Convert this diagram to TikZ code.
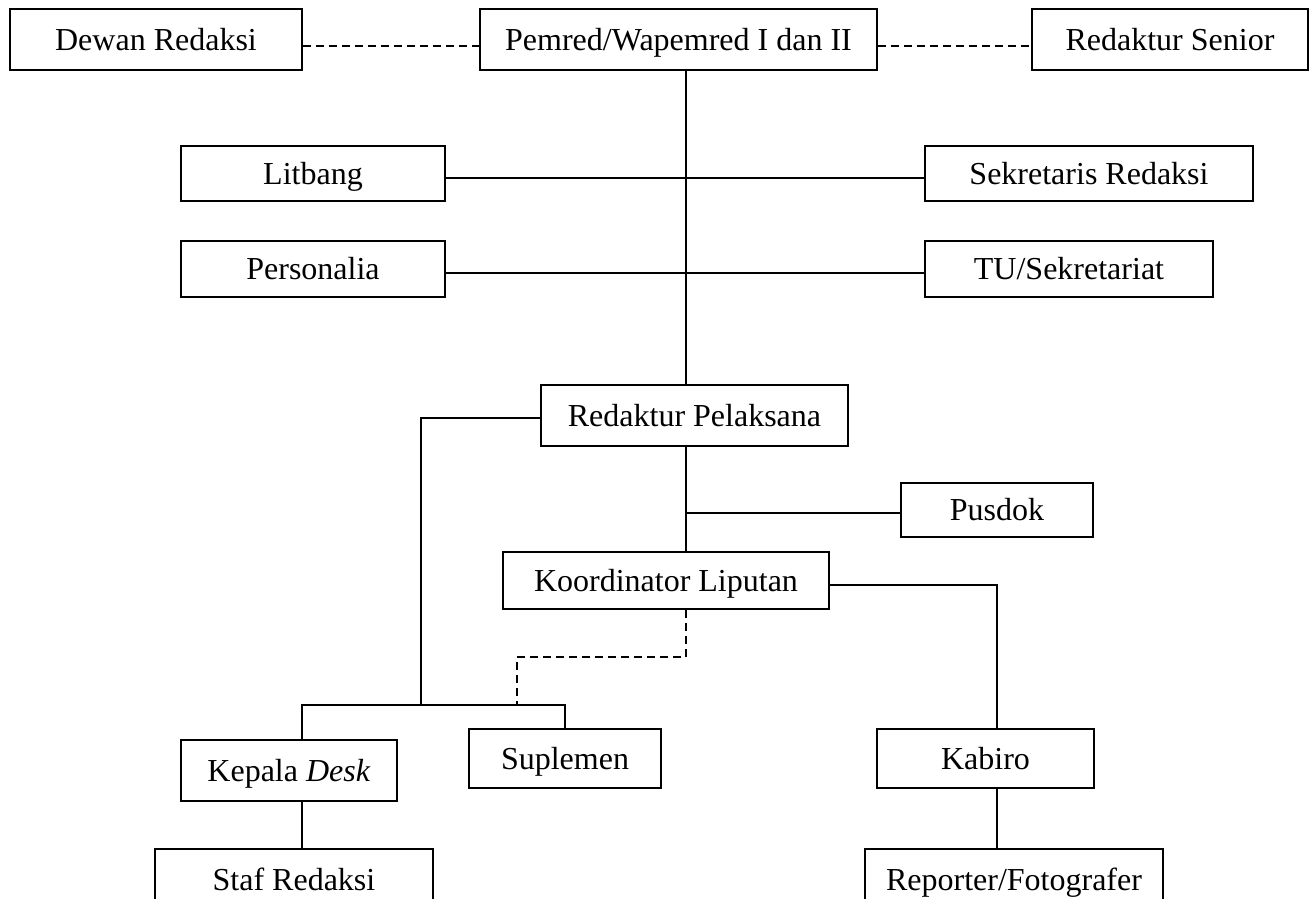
\documentclass[tikz,border=0pt]{standalone}
\usepackage{fontspec}
\setmainfont{Liberation Serif}
\tikzset{x=0.5pt, y=-0.5pt, % One unit is one pixel of the chart, y grows downwards
every node/.style={font=\fontsize{16}{19}\selectfont},
unit/.style={ % Sets the properties for each box of the chart
draw, rectangle,
line width=1pt,
inner sep=0pt,
text height=10.6pt, text depth=0pt}, % Text centred on its capitals
link/.style={line width=1pt}, % Line of command
staff link/.style={ % Line of coordination
link, dashed, dash pattern=on 4pt off 2.5pt}}

\begin{document}
\begin{tikzpicture}
    \clip (0,0) rectangle (1314,899);

    \node[unit, minimum width=146pt, minimum height=30.5pt] (dewan) at (156,39.5) {Dewan Redaksi};
    \node[unit, minimum width=198.5pt, minimum height=30.5pt] (pemred) at (678.5,39.5) {Pemred/Wapemred I dan II};
    \node[unit, minimum width=138pt, minimum height=30.5pt] (senior) at (1170,39.5) {Redaktur Senior};

    \node[unit, minimum width=132pt, minimum height=27.5pt] (litbang) at (313,173.5) {Litbang};
    \node[unit, minimum width=164pt, minimum height=27.5pt] (sekred) at (1089,173.5) {Sekretaris Redaksi};
    \node[unit, minimum width=132pt, minimum height=28pt] (personalia) at (313,269) {Personalia};
    \node[unit, minimum width=144pt, minimum height=28pt] (tu) at (1069,269) {TU/Sekretariat};

    \node[unit, minimum width=153.5pt, minimum height=30.5pt] (redpel) at (694.5,415.5) {Redaktur Pelaksana};
    \node[unit, minimum width=96pt, minimum height=27pt] (pusdok) at (997,510) {Pusdok};
    \node[unit, minimum width=163pt, minimum height=28.5pt] (korlip) at (666,580.5) {Koordinator Liputan};

    \node[unit, minimum width=108pt, minimum height=30.5pt] (kepala) at (289,770.5) {Kepala \textit{Desk}};
    \node[unit, minimum width=96pt, minimum height=29.5pt] (suplemen) at (565,758.5) {Suplemen};
    \node[unit, minimum width=108.5pt, minimum height=29.5pt] (kabiro) at (985.5,758.5) {Kabiro};
    \node[unit, minimum width=139pt, minimum height=30.5pt] (staf) at (294,879.5) {Staf Redaksi};
    \node[unit, minimum width=149pt, minimum height=30.5pt] (reporter) at (1014,879.5) {Reporter/Fotografer};

    % bends and levels of the lines
    \coordinate (trunk) at (686,0);
    \coordinate (left) at (421,0);
    \coordinate (deskx) at (302,0);
    \coordinate (kabirox) at (997,0);
    \coordinate (toprow) at (0,46);
    \coordinate (row1) at (0,178);
    \coordinate (row2) at (0,273);
    \coordinate (redpelrow) at (0,418);
    \coordinate (pusdokjoin) at (686,513);
    \coordinate (korliprow) at (0,585);
    \coordinate (dashbend) at (517,657);
    \coordinate (bus) at (0,705);

    \draw[staff link] (dewan.east |- toprow) -- (pemred.west |- toprow);
    \draw[staff link] (pemred.east |- toprow) -- (senior.west |- toprow);

    \draw[link] (pemred.south -| trunk) -- (redpel.north -| trunk);
    \draw[link] (litbang.east |- row1) -- (sekred.west |- row1);
    \draw[link] (personalia.east |- row2) -- (tu.west |- row2);

    \draw[link] (redpel.south -| trunk) -- (korlip.north -| trunk);
    \draw[link] (pusdokjoin) -- (pusdok.west |- pusdokjoin);
    \draw[link] (korlip.east |- korliprow) -| (kabiro.north -| kabirox);
    \draw[link] (kabiro.south -| kabirox) -- (reporter.north -| kabirox);

    \draw[link] (redpel.west |- redpelrow) -| (left |- bus);
    \draw[link] (kepala.north -| deskx) |- (suplemen.north |- bus) -- (suplemen.north);
    \draw[staff link] (korlip.south -| trunk) |- (dashbend) -- (dashbend |- bus);
    \draw[link] (kepala.south -| deskx) -- (staf.north -| deskx);

\end{tikzpicture}
\end{document}
